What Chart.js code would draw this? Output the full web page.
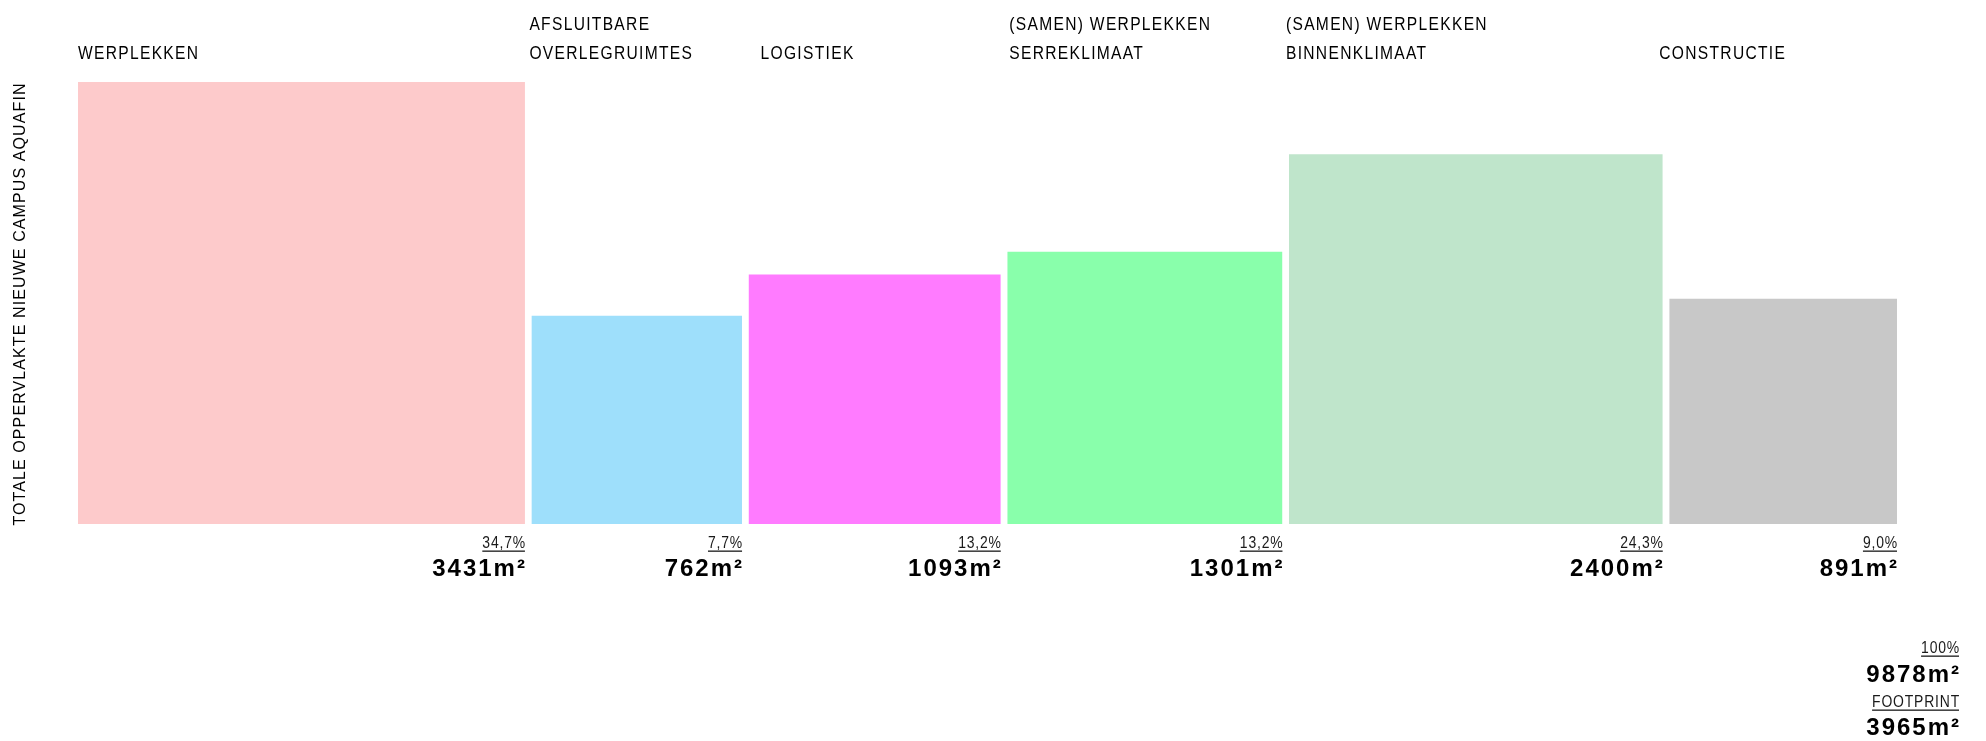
<!DOCTYPE html>
<html>
<head>
<meta charset="utf-8">
<script src="https://cdn.jsdelivr.net/npm/chart.js@4.4.0/dist/chart.umd.min.js"></script>
<style>
  html, body { margin: 0; padding: 0; background: #fff; }
  #wrap { width: 1986px; height: 741px; }
</style>
</head>
<body>
<div id="wrap"><canvas id="campusChart" width="1986" height="741"></canvas></div>
<script>
// oppervlaktes per functie (m²), elk blok is (ongeveer) een vierkant met oppervlakte ~ m²
const categories = [
  ['WERPLEKKEN'],
  ['AFSLUITBARE', 'OVERLEGRUIMTES'],
  ['LOGISTIEK'],
  ['(SAMEN) WERPLEKKEN', 'SERREKLIMAAT'],
  ['(SAMEN) WERPLEKKEN', 'BINNENKLIMAAT'],
  ['CONSTRUCTIE']
];
const areas = [3431, 762, 1093, 1301, 2400, 891];
const percentLabels = ['34,7%', '7,7%', '13,2%', '13,2%', '24,3%', '9,0%'];
const totalLabel = '100%';
const totalArea = 9878;
const footprintLabel = 'FOOTPRINT';
const footprintArea = 3965;
const axisTitle = 'TOTALE OPPERVLAKTE NIEUWE CAMPUS AQUAFIN';

const colors = ['#fdcacb', '#9edffb', '#ff7bff', '#89ffab', '#bfe5cb', '#c8c8c8'];

// layout
const W = 1986, H = 741;
const pad = { left: 78, right: 89, top: 60, bottom: 217 };
const GAP = 0.85;          // ruimte tussen blokken, in sqrt(m²)
const TALLEST_PX = 442;    // hoogte van het grootste blok

const sides = areas.map(a => Math.sqrt(a));
let cursor = 0;
const datasets = sides.map((s, i) => {
  const x0 = cursor;
  const x1 = cursor + s;
  cursor = x1 + GAP;
  return {
    label: categories[i].join(' '),
    data: [{ x: x0, y: s }, { x: x1, y: s }],
    backgroundColor: colors[i],
    borderWidth: 0,
    pointRadius: 0,
    fill: 'origin',
    tension: 0
  };
});
const xMax = cursor - GAP;
const yMax = (H - pad.top - pad.bottom) / (TALLEST_PX / Math.max(...sides));

const labelNudge = [0, -2, 12, 2, -3, -10];
const NARROW = 0.82; // Arial Narrow nabootsen

// tekst met letterafstand, horizontaal samengedrukt; geeft breedte terug
function drawText(ctx, txt, x, y, spacing, sx) {
  ctx.save();
  ctx.translate(x, y);
  ctx.scale(sx, 1);
  ctx.letterSpacing = spacing + 'px';
  ctx.fillText(txt, 0, 0);
  const w = ctx.measureText(txt).width * sx;
  ctx.restore();
  return w;
}

function underlined(ctx, txt, xRight, y) {
  ctx.font = '17px "Liberation Sans", Arial, sans-serif';
  ctx.textAlign = 'right';
  ctx.textBaseline = 'middle';
  ctx.fillStyle = '#1a1a1a';
  const w = drawText(ctx, txt, xRight + 1, y, 1, NARROW);
  ctx.fillRect(xRight - w + 1, y + 7.5, w - 1, 1.3);
}

function bigValue(ctx, txt, xRight, y) {
  ctx.font = 'bold 24px "Liberation Sans", Arial, sans-serif';
  ctx.textAlign = 'right';
  ctx.textBaseline = 'middle';
  ctx.fillStyle = '#000';
  drawText(ctx, txt, xRight + 2, y, 2, 1);
}

const labelPlugin = {
  id: 'campusLabels',
  afterDraw(chart) {
    const ctx = chart.ctx;
    const xs = chart.scales.x;
    ctx.save();

    datasets.forEach((ds, i) => {
      const left = xs.getPixelForValue(ds.data[0].x);
      const right = xs.getPixelForValue(ds.data[1].x);

      // categorie bovenaan
      ctx.font = '19px "Liberation Sans", Arial, sans-serif';
      ctx.textAlign = 'left';
      ctx.textBaseline = 'middle';
      ctx.fillStyle = '#000';
      const lines = categories[i];
      const ys = lines.length === 2 ? [25, 54] : [54];
      lines.forEach((ln, j) => drawText(ctx, ln, left + labelNudge[i], ys[j], 1.6, NARROW));

      // percentage en oppervlakte onderaan
      underlined(ctx, percentLabels[i], right, 543);
      bigValue(ctx, areas[i] + 'm²', right, 569);
    });

    // totaal rechtsonder
    const farRight = 1959;
    underlined(ctx, totalLabel, farRight, 648);
    bigValue(ctx, totalArea + 'm²', farRight, 675);
    underlined(ctx, footprintLabel, farRight, 702);
    bigValue(ctx, footprintArea + 'm²', farRight, 728);

    // astitel
    ctx.translate(21, 304);
    ctx.rotate(-Math.PI / 2);
    ctx.font = '16px "Liberation Sans", Arial, sans-serif';
    ctx.textAlign = 'center';
    ctx.textBaseline = 'middle';
    ctx.fillStyle = '#000';
    drawText(ctx, axisTitle, 0, 0, 1.1, 1);

    ctx.restore();
  }
};

new Chart(document.getElementById('campusChart').getContext('2d'), {
  type: 'line',
  data: { datasets },
  options: {
    responsive: false,
    animation: false,
    layout: { padding: pad },
    plugins: {
      legend: { display: false },
      tooltip: { enabled: false }
    },
    scales: {
      x: { type: 'linear', min: 0, max: xMax, display: false },
      y: { type: 'linear', min: 0, max: yMax, display: false }
    }
  },
  plugins: [labelPlugin]
});
</script>
</body>
</html>
